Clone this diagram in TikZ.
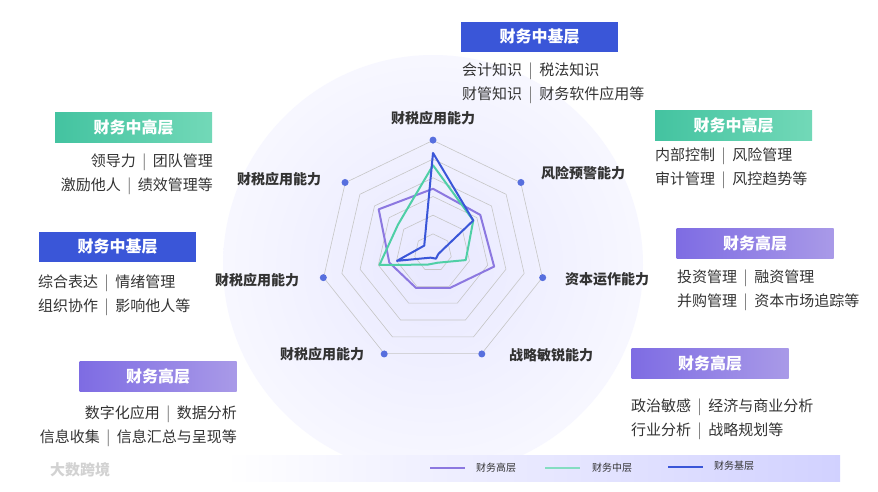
\documentclass[tikz,border=0pt]{standalone}
\usepackage{fontspec}
\setmainfont{Noto Sans CJK SC}
\usetikzlibrary{calc}
\definecolor{bl}{HTML}{3A56D8}
\definecolor{gr}{HTML}{4FCFA6}
\definecolor{pu}{HTML}{8C78E0}
\definecolor{txt}{HTML}{333333}
\newcommand\sepbar{\hspace{6.5pt}{\color{gray}|}\hspace{6.5pt}}
\tikzset{
 hdr/.style={minimum width=157pt,minimum height=30pt,inner sep=0pt,text=white,font=\fontsize{16}{16}\selectfont\bfseries},
 body/.style={text=txt,font=\fontsize{15}{24}\selectfont,inner sep=0pt,yshift=-5pt},
 axl/.style={text=txt,font=\fontsize{14}{14}\selectfont\bfseries,inner sep=0pt},
 ring/.style={draw=gray!45,line width=0.6pt},
 dat/.style={line width=2pt,line join=round}
}
\begin{document}
\begin{tikzpicture}[x=1pt,y=-1pt]
\useasboundingbox (0,0) rectangle (878,491);
\fill[white] (0,0) rectangle (878,491);
\shade[inner color=blue!9,outer color=blue!3] (433,265) circle (210);
\shade[left color=white,right color=blue!18] (225,455) rectangle (840,481);
\coordinate (c) at (433,252.6);
\foreach \k in {1,...,6}{
 \draw[ring] ($(c)+(-90:{\k*18.7})$) \foreach \i in {1,...,6}{-- ($(c)+({-90+\i*360/7}:{\k*18.7})$)} -- cycle;}
\foreach \i in {0,...,6}{\fill[bl!85] ($(c)+({-90+\i*360/7}:112.5)$) circle (3.5);}
\def\pol#1#2#3#4#5#6#7{($(c)+(-90:{#1*112})$) -- ($(c)+({-90+360/7}:{#2*112})$) -- ($(c)+({-90+720/7}:{#3*112})$) -- ($(c)+({-90+1080/7}:{#4*112})$) -- ($(c)+({-90+1440/7}:{#5*112})$) -- ($(c)+({-90+1800/7}:{#6*112})$) -- ($(c)+({-90+2160/7}:{#7*112})$) -- cycle}
\draw[dat,pu] \pol{0.57}{0.54}{0.56}{0.35}{0.35}{0.40}{0.62};
\draw[dat,gr] \pol{0.78}{0.46}{0.30}{0.10}{0.12}{0.49}{0.40};
\draw[dat,bl] \pol{0.89}{0.46}{0.05}{0.06}{0.05}{0.33}{0.10};
% axis labels
\node[axl] (a1) at (433,118) {财税应用能力};
\node[axl] (a2) at (583,173) {风险预警能力};
\node[axl] (a3) at (607,279) {资本运作能力};
\node[axl] (a4) at (551,355) {战略敏锐能力};
\node[axl] (a5) at (322,354) {财税应用能力};
\node[axl] (a6) at (257,280) {财税应用能力};
\node[axl] (a7) at (279,179) {财税应用能力};
% headers
\node[hdr,fill=bl] (h1) at (539.5,37) {财务中基层};
\node[body,anchor=north west,align=left] (t1) at (462,58) {会计知识\sepbar 税法知识\\财管知识\sepbar 财务软件应用等};
\node[hdr,left color=gr!85!teal,right color=gr!80] (h2) at (133.5,127) {财务中高层};
\node[body,anchor=north east,align=right] (t2) at (213,149) {领导力\sepbar 团队管理\\激励他人\sepbar 绩效管理等};
\node[hdr,left color=gr!85!teal,right color=gr!80] (h3) at (733.5,125) {财务中高层};
\node[body,anchor=north west,align=left] (t3) at (655,143) {内部控制\sepbar 风险管理\\审计管理\sepbar 风控趋势等};
\node[hdr,fill=bl] (h4) at (117.5,247) {财务中基层};
\node[body,anchor=north west,align=left] (t4) at (38,270) {综合表达\sepbar 情绪管理\\组织协作\sepbar 影响他人等};
\node[hdr,left color=pu!90!blue,right color=pu!75] (h5) at (755,243) {财务高层};
\node[body,anchor=north west,align=left] (t5) at (677,265) {投资管理\sepbar 融资管理\\并购管理\sepbar 资本市场追踪等};
\node[hdr,left color=pu!90!blue,right color=pu!75] (h6) at (158,376) {财务高层};
\node[body,anchor=north east,align=right] (t6) at (237,401) {数字化应用\sepbar 数据分析\\信息收集\sepbar 信息汇总与呈现等};
\node[hdr,left color=pu!90!blue,right color=pu!75] (h7) at (710,363) {财务高层};
\node[body,anchor=north west,align=left] (t7) at (631,394) {政治敏感\sepbar 经济与商业分析\\行业分析\sepbar 战略规划等};
% legend
\tikzset{lg/.style={text=txt,font=\fontsize{10}{10}\selectfont,inner sep=0pt,anchor=west}}
\coordinate (l1a) at (430,468); \coordinate (l1b) at (465,468);
\draw[pu,line width=1.8pt] (l1a) -- (l1b); \node[lg] (lg1) at (476,468) {财务高层};
\coordinate (l2a) at (545,468); \coordinate (l2b) at (580,468);
\draw[gr!70,line width=1.8pt] (l2a) -- (l2b); \node[lg] (lg2) at (592,468) {财务中层};
\coordinate (l3a) at (668,467); \coordinate (l3b) at (703,467);
\draw[bl,line width=1.8pt] (l3a) -- (l3b); \node[lg] (lg3) at (714,466) {财务基层};
\node[text=gray!35,font=\fontsize{15}{15}\selectfont\bfseries,inner sep=0pt] (wm) at (80,470) {大数跨境};
\end{tikzpicture}
\end{document}
